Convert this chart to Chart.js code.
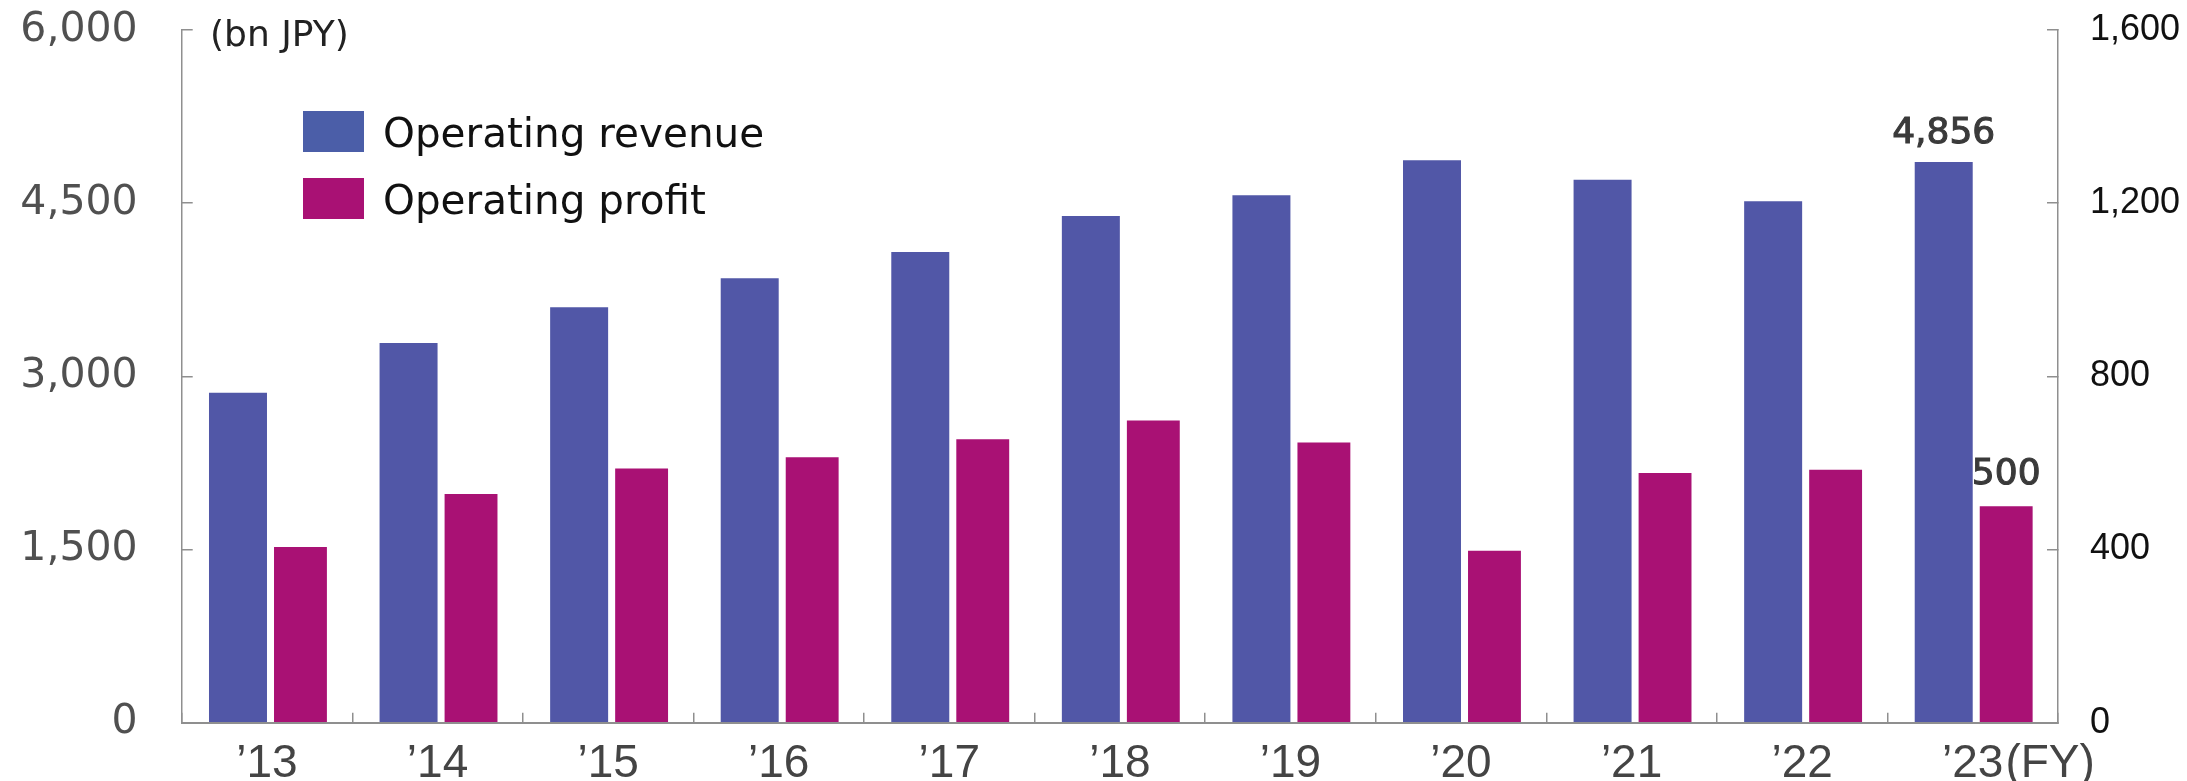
<!DOCTYPE html>
<html>
<head>
<meta charset="utf-8">
<script src="https://cdn.jsdelivr.net/npm/chart.js@4.4.1/dist/chart.umd.min.js"></script>
<style>
  body { margin: 0; background: #fff; }
  #wrap { width: 2187px; height: 781px; }
</style>
</head>
<body>
<div id="wrap"><canvas id="salesChart" width="2187" height="781"></canvas></div>
<script>
// fiscal years and values (bn JPY)
const years = ['’13', '’14', '’15', '’16', '’17', '’18', '’19', '’20', '’21', '’22', '’23'];
const revenue = [2858, 3289, 3598, 3849, 4077, 4389, 4568, 4871, 4703, 4516, 4856];
const profit = [406, 528, 587, 613, 655, 698, 647, 397, 577, 584, 500];
const leftTicks = [0, 1500, 3000, 4500, 6000];
const rightTicks = [0, 400, 800, 1200, 1600];

const revColor = '#5157a7';
const profColor = '#a91174';
const axisColor = '#8f8f8f';

// big tick padding would otherwise push the chart area in
function fixBox(width, height) {
    return (scale) => {
        if (width) scale.width = width;
        if (height) scale.height = height;
        scale.paddingTop = 0;
        scale.paddingBottom = 0;
        scale.paddingLeft = 0;
        scale.paddingRight = 0;
    };
}

// legend, unit note, (FY) and the value labels on the last year
const extras = {
    id: 'extras',
    afterDraw(chart) {
        const ctx = chart.ctx;
        ctx.save();

        ctx.font = '36px "DejaVu Sans"';
        ctx.fillStyle = '#222';
        ctx.textAlign = 'left';
        ctx.textBaseline = 'middle';
        ctx.fillText('(bn JPY)', 210, 37);

        const legendColors = ['#4b5ea8', '#a91174'];
        chart.data.datasets.forEach((ds, i) => {
            const top = 111 + i * 67;
            ctx.fillStyle = legendColors[i];
            ctx.fillRect(303, top, 61, 41);
            ctx.fillStyle = '#111';
            ctx.font = '40.5px "DejaVu Sans"';
            ctx.textBaseline = 'alphabetic';
            ctx.fillText(ds.label, 383, top + 36);
        });

        // values above the last bars (slightly heavier than the ticks)
        const last = years.length - 1;
        ctx.font = '36px "DejaVu Sans"';
        ctx.fillStyle = '#3a3a3a';
        ctx.strokeStyle = '#3a3a3a';
        ctx.lineWidth = 1.1;
        ctx.textAlign = 'center';
        const revBar = chart.getDatasetMeta(0).data[last];
        const revText = revenue[last].toLocaleString('en-US');
        ctx.fillText(revText, revBar.x, revBar.y - 19);
        ctx.strokeText(revText, revBar.x, revBar.y - 19);
        const profBar = chart.getDatasetMeta(1).data[last];
        const profText = profit[last].toLocaleString('en-US');
        ctx.fillText(profText, profBar.x, profBar.y - 22);
        ctx.strokeText(profText, profBar.x, profBar.y - 22);

        // (FY) after the last year label
        const x = chart.scales.x;
        ctx.font = '46px "Liberation Sans"';
        ctx.fillStyle = '#444';
        ctx.textAlign = 'left';
        ctx.textBaseline = 'middle';
        const w = ctx.measureText(years[last]).width;
        ctx.fillText('(FY)', x.getPixelForValue(last) + w / 2 + 2, x.top + 14 + 27.6);

        ctx.restore();
    }
};

new Chart(document.getElementById('salesChart'), {
    type: 'bar',
    data: {
        labels: years,
        datasets: [{
            label: 'Operating revenue',
            data: revenue,
            backgroundColor: revColor,
            yAxisID: 'y',
            categoryPercentage: 0.68,
            barPercentage: 1.0
        }, {
            label: 'Operating profit',
            data: profit,
            backgroundColor: profColor,
            yAxisID: 'y1',
            categoryPercentage: 0.785,
            barPercentage: 0.79
        }]
    },
    options: {
        responsive: false,
        animation: false,
        devicePixelRatio: 1,
        layout: { padding: { top: 30, bottom: 0, left: 0, right: 0 } },
        plugins: {
            legend: { display: false },
            tooltip: { enabled: false }
        },
        scales: {
            x: {
                grid: { display: true, drawOnChartArea: false, tickLength: -10, color: axisColor, lineWidth: 1.5, offset: true },
                border: { display: true, color: axisColor, width: 2 },
                ticks: {
                    autoSkip: false, maxRotation: 0, padding: 24,
                    color: '#444',
                    font: { family: 'Liberation Sans', size: 46 }
                },
                afterFit: fixBox(0, 58.3)
            },
            y: {
                position: 'left',
                min: 0, max: 6000,
                afterBuildTicks: (scale) => { scale.ticks = leftTicks.map(v => ({ value: v })); },
                grid: { display: true, drawOnChartArea: false, tickLength: -11, color: axisColor, lineWidth: 1.5 },
                border: { display: true, color: axisColor, width: 1.5 },
                ticks: {
                    padding: 55, color: '#505050',
                    font: { family: 'DejaVu Sans', size: 41 }
                },
                afterFit: fixBox(181.7, 0)
            },
            y1: {
                position: 'right',
                min: 0, max: 1600,
                afterBuildTicks: (scale) => { scale.ticks = rightTicks.map(v => ({ value: v })); },
                grid: { display: true, drawOnChartArea: false, tickLength: -11, color: axisColor, lineWidth: 1.5 },
                border: { display: true, color: axisColor, width: 1.5 },
                ticks: {
                    padding: 43, color: '#111',
                    font: { family: 'Liberation Sans', size: 36 }
                },
                afterFit: fixBox(129, 0)
            }
        }
    },
    plugins: [extras]
});
</script>
</body>
</html>
